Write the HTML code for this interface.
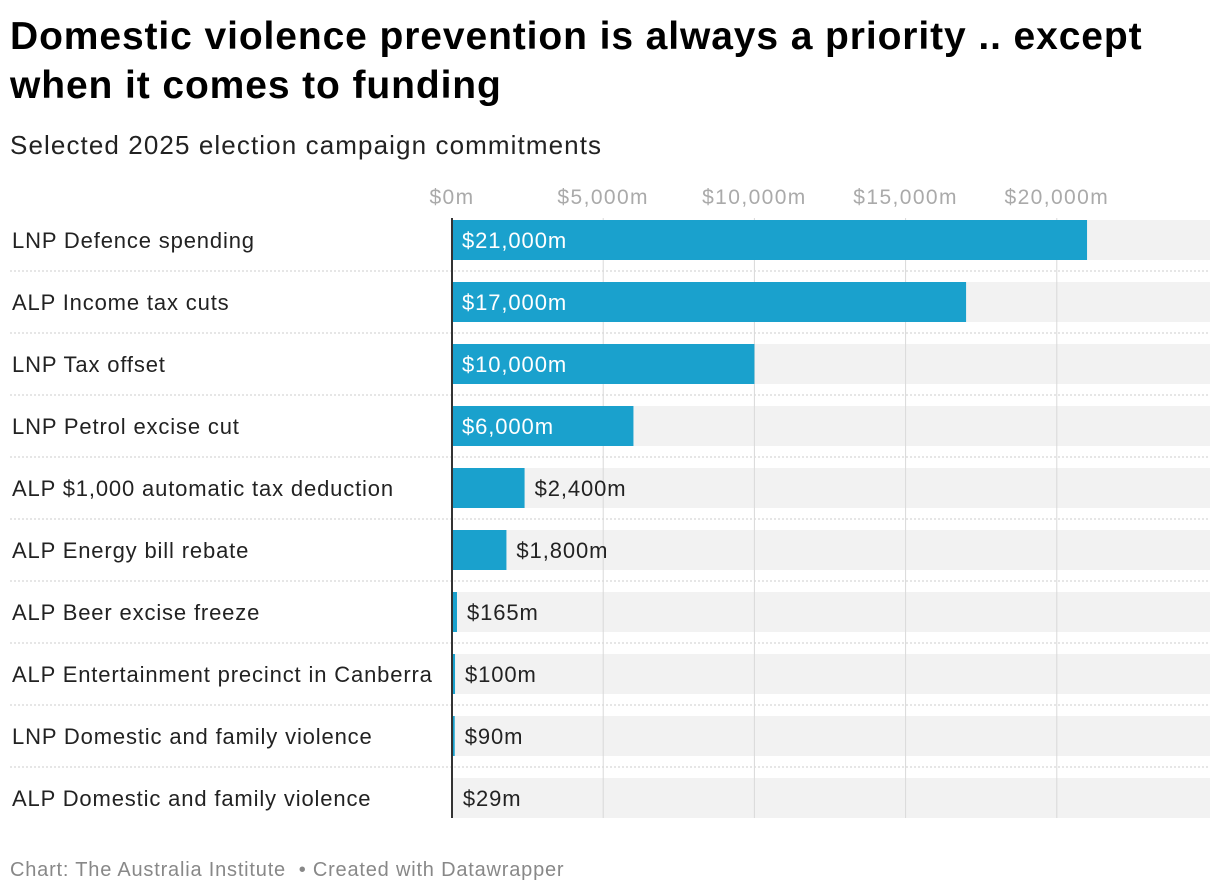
<!DOCTYPE html>
<html><head><meta charset="utf-8">
<style>
body{margin:0;background:#fff;font-family:"Liberation Sans",Arial,sans-serif;}
#wrap{position:relative;width:1220px;height:894px;overflow:hidden;}
h1{position:absolute;left:10px;top:12px;margin:0;font-size:39px;line-height:49px;font-weight:bold;color:#000;width:1170px;letter-spacing:0.9px}
.sub{position:absolute;left:10px;top:130px;font-size:26px;color:#222;letter-spacing:1.1px}
.foot{position:absolute;left:10px;top:859px;font-size:20px;color:#888;letter-spacing:0.8px}
svg text{font-family:"Liberation Sans",Arial,sans-serif}
</style></head><body>
<div id="wrap">
<h1>Domestic violence prevention is always a priority .. except when it comes to funding</h1>
<div class="sub">Selected 2025 election campaign commitments</div>
<svg id="chart" width="1220" height="894" style="position:absolute;left:0;top:0"></svg>
<div class="foot">Chart: The Australia Institute &nbsp;• Created with Datawrapper</div>
</div>
<script>
const categories=["LNP Defence spending","ALP Income tax cuts","LNP Tax offset","LNP Petrol excise cut","ALP $1,000 automatic tax deduction","ALP Energy bill rebate","ALP Beer excise freeze","ALP Entertainment precinct in Canberra","LNP Domestic and family violence","ALP Domestic and family violence"];
const values=[21000,17000,10000,6000,2400,1800,165,100,90,29];
const valueLabels=["$21,000m","$17,000m","$10,000m","$6,000m","$2,400m","$1,800m","$165m","$100m","$90m","$29m"];
const ticks=[0,5000,10000,15000,20000];
const tickLabels=["$0m","$5,000m","$10,000m","$15,000m","$20,000m"];
const NS="http://www.w3.org/2000/svg";
const svg=document.getElementById('chart');
const x0=452, pxPer=151.2/5000, maxX=1210;
const x=v=>x0+v*pxPer;
const rowTop=i=>220+i*62;
function el(t,a){const e=document.createElementNS(NS,t);for(const k in a)e.setAttribute(k,a[k]);svg.appendChild(e);return e;}
categories.forEach((c,i)=>{
  const bg=el('rect',{x:x0,y:rowTop(i),width:maxX-x0,height:40,fill:'#f2f2f2'});
  
  
  if(i<categories.length-1){
    const s=el('line',{x1:10,x2:maxX,y1:rowTop(i)+51,y2:rowTop(i)+51,stroke:'#ccc','stroke-dasharray':'2,2','stroke-width':1});
    
    
  }
});
ticks.forEach((t,i)=>{
  if(t>0){const g=el('line',{x1:x(t),x2:x(t),y1:218,y2:818,stroke:'#d9d9d9','stroke-width':1});
  
  }
  const tx=el('text',{x:x(t),y:204,'text-anchor':'middle','font-size':21,fill:'#aaa','letter-spacing':1.4});
  tx.textContent=tickLabels[i];
  
  
});
categories.forEach((c,i)=>{
  const y=rowTop(i);
  const lb=el('text',{x:12,y:y+28,'font-size':22,fill:'#222','letter-spacing':0.85});
  lb.textContent=c;
  
  
  const w=values[i]*pxPer;
  const b=el('rect',{x:x0,y:y,width:w,height:40,fill:'#1aa1cd'});
  
  
  const inside=w>150;
  const vt=el('text',{x:inside?x0+10:x0+w+10,y:y+28,'font-size':22,fill:inside?'#fff':'#222','letter-spacing':0.9});
  vt.textContent=valueLabels[i];
  
  
});
const ax=el('line',{x1:x0,x2:x0,y1:218,y2:818,stroke:'#333','stroke-width':2});


</script>
</body></html>
